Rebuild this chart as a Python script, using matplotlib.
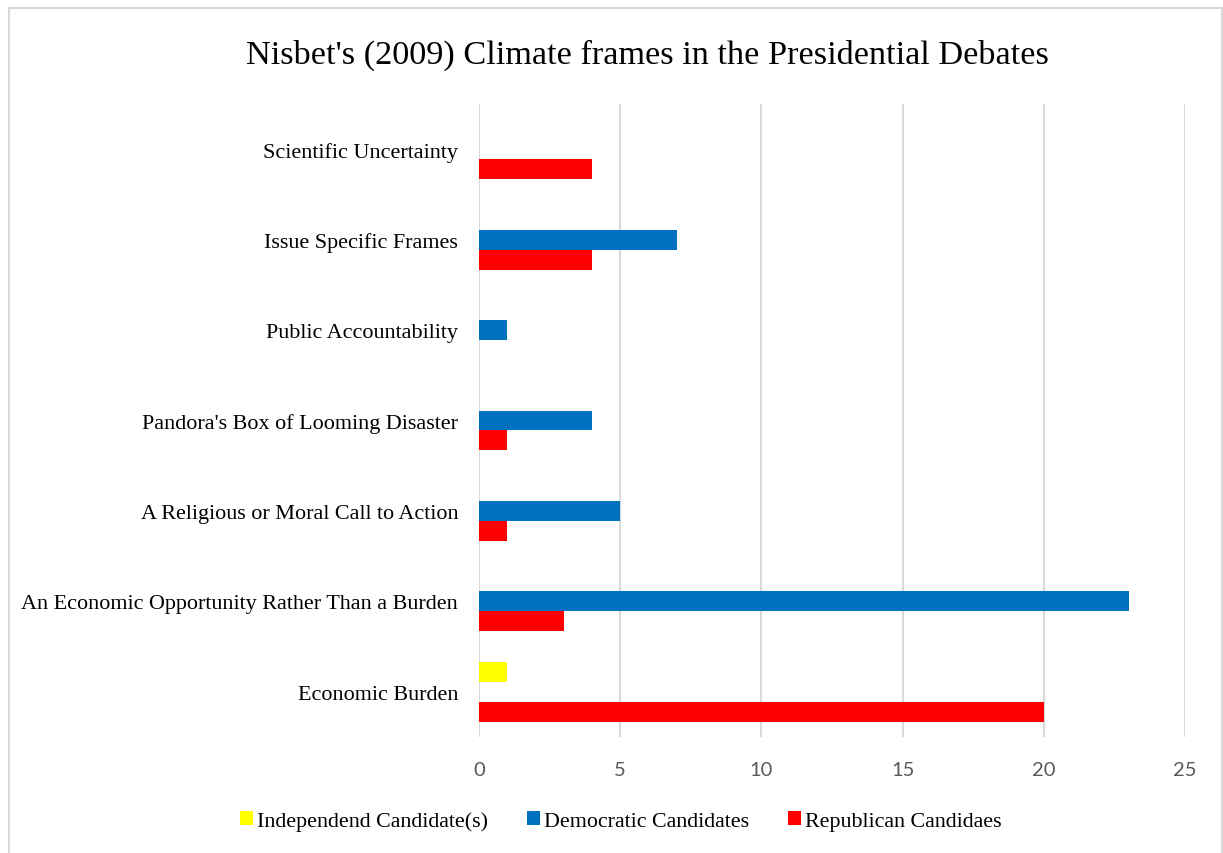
import matplotlib.pyplot as plt
from matplotlib.patches import Rectangle
import numpy as np

# frame categories, bottom to top
frames = ['Economic Burden',
          'An Economic Opportunity Rather Than a Burden',
          'A Religious or Moral Call to Action',
          "Pandora's Box of Looming Disaster",
          'Public Accountability',
          'Issue Specific Frames',
          'Scientific Uncertainty']

independent = [1, 0, 0, 0, 0, 0, 0]
democratic = [0, 23, 5, 4, 1, 7, 0]
republican = [20, 3, 1, 1, 0, 4, 4]

series_names = ['Independend Candidate(s)', 'Democratic Candidates', 'Republican Candidaes']
colors = ['#FFFF00', '#0070C0', '#FF0000']

serif = 'Liberation Serif'

fig = plt.figure(figsize=(12.23, 8.54), dpi=100)
ax = fig.add_axes([0.3917, 0.1358, 0.969 - 0.3917, 0.877 - 0.1358])

# outer chart border (runs off the bottom edge)
fig.patches.append(Rectangle((9 / 1223, -10 / 854), 1213 / 1223, 855 / 854,
                             transform=fig.transFigure, fill=False,
                             edgecolor='#D9D9D9', linewidth=1.5))

y = np.arange(len(frames))
h = 0.22
for vals, off, c, name in zip([independent, democratic, republican], [h, 0, -h],
                              colors, series_names):
    ax.barh(y + off, vals, height=h, color=c, label=name, zorder=3)

ax.set_xlim(0, 25)
ax.set_ylim(-0.5, len(frames) - 0.5)
ax.set_xticks(range(0, 26, 5))
ax.xaxis.grid(True, color='#D9D9D9', linewidth=1.5, zorder=0)
for s in ax.spines.values():
    s.set_visible(False)
ax.tick_params(axis='both', length=0)
ax.tick_params(axis='x', pad=17, labelsize=14.5, labelcolor='#595959')
for t in ax.get_xticklabels():
    t.set_fontfamily('Lato')
ax.set_yticks(y)
ax.set_yticklabels(frames, fontfamily=serif, fontsize=15.9)
ax.tick_params(axis='y', pad=15)

fig.text(0.529, 0.9356, "Nisbet's (2009) Climate frames in the Presidential Debates",
         ha='center', va='center', fontfamily=serif, fontsize=24.7)

ax.legend(loc='center', bbox_to_anchor=(621 / 1223, 1 - 822 / 854),
          bbox_transform=fig.transFigure, ncol=3, frameon=False,
          prop={'family': serif, 'size': 15.8}, handlelength=0.6, handleheight=0.6,
          handletextpad=0.2, columnspacing=1.75)

fig.savefig('out.png', dpi=100)
